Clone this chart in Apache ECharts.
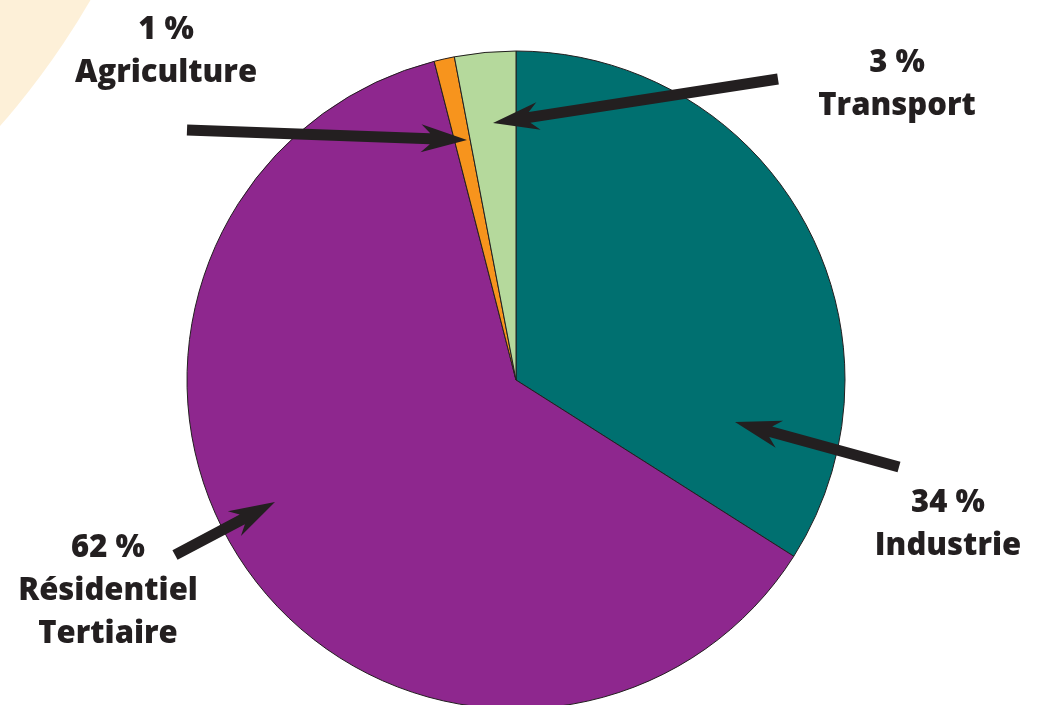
<!DOCTYPE html>
<html>
<head>
<meta charset="utf-8">
<script src="https://cdn.jsdelivr.net/npm/echarts@6/dist/echarts.min.js"></script>
<style>
html,body{margin:0;padding:0;background:#ffffff;}
#chart{width:1047px;height:705px;}
</style>
</head>
<body>
<div id="chart"></div>
<script>
// ---- data ----
const categories = ['Industrie', 'Résidentiel Tertiaire', 'Agriculture', 'Transport'];
const labelLines = [['Industrie'], ['Résidentiel', 'Tertiaire'], ['Agriculture'], ['Transport']];
const values = [34, 62, 1, 3];
const colors = ['#007070', '#8e278e', '#f7941d', '#b5d99c'];

// ---- layout (positions / styles) ----
const CX = 516, CY = 380, R = 329;
const FONT = '800 31px "Open Sans", "Noto Sans", sans-serif';
const INK = '#231f20';
// label anchor: centre x, baseline of first line, line gap
const labelPos = [
  {x: 948, y: 513},
  {x: 108, y: 558},
  {x: 166, y: 40},
  {x: 897, y: 73}
];
const LINE_GAP = 43;
// arrows: tail -> tip
const arrows = [
  [899, 467, 735, 422],
  [175, 555, 275, 502],
  [187, 130, 467, 140],
  [778, 79, 493, 123]
];

function arrowPoints(x1, y1, x2, y2) {
  const dx = x2 - x1, dy = y2 - y1;
  const D = Math.hypot(dx, dy);
  const ux = dx / D, uy = dy / D, nx = -uy, ny = ux;
  const w = 5.5, L = 46, notch = 9, H = 14;
  const P = (d, o) => [x1 + ux * d + nx * o, y1 + uy * d + ny * o];
  return [
    P(0, w), P(D - L + notch, w), P(D - L, H), P(D, 0),
    P(D - L, -H), P(D - L + notch, -w), P(0, -w)
  ];
}

const graphics = [
  {type: 'circle', z: -10, silent: true,
   shape: {cx: -600, cy: -400, r: 798},
   style: {fill: '#fdf0d8'}}
];
arrows.forEach(a => {
  graphics.push({type: 'polygon', z: 100, shape: {points: arrowPoints(a[0], a[1], a[2], a[3])},
    style: {fill: INK}});
});
categories.forEach((c, i) => {
  const lines = [values[i] + ' %'].concat(labelLines[i]);
  lines.forEach((t, k) => {
    graphics.push({type: 'text', z: 100, x: labelPos[i].x, y: labelPos[i].y + k * LINE_GAP - 10,
      style: {text: t, font: FONT, fill: INK, align: 'center', verticalAlign: 'middle'}});
  });
});

const chart = echarts.init(document.getElementById('chart'), null, {renderer: 'canvas'});
chart.setOption({
  backgroundColor: '#ffffff',
  animation: false,
  series: [{
    type: 'pie',
    center: [CX, CY],
    radius: R,
    startAngle: 90,
    clockwise: true,
    label: {show: false},
    labelLine: {show: false},
    emphasis: {disabled: true},
    itemStyle: {borderColor: INK, borderWidth: 1},
    data: categories.map((c, i) => ({name: c, value: values[i], itemStyle: {color: colors[i]}}))
  }],
  graphic: graphics
});
</script>
</body>
</html>
